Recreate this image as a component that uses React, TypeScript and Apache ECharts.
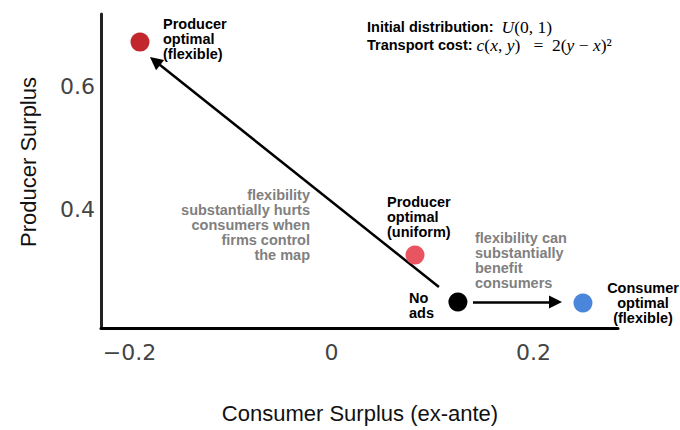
import React, { useEffect, useRef } from "react";
import * as echarts from "echarts";

// Data
const pointNames = [
  "Producer optimal (flexible)",
  "Producer optimal (uniform)",
  "No ads",
  "Consumer optimal (flexible)",
];
const consumerSurplus = [-0.1896, 0.0827, 0.1252, 0.249];
const producerSurplus = [0.6732, 0.3268, 0.2504, 0.2488];
const pointColors = ["#c1272d", "#e8545f", "#000000", "#4a86dc"];

const arrowFromX = [0.1064, 0.1401];
const arrowFromY = [0.2748, 0.2504];
const arrowToX = [-0.1747, 0.2218];
const arrowToY = [0.6422, 0.2504];

const xTicks = [-0.2, 0, 0.2];
const yTicks = [0.4, 0.6];
const xRange = [-0.2282, 0.2837];
const yRange = [0.2081, 0.7187];

const ANN = "Liberation Sans";
const ANN_FONT = `bold 14.5px "${ANN}"`;

export default function App() {
  const ref = useRef<HTMLDivElement>(null);
  useEffect(() => {
    if (!ref.current) return;
    const chart = echarts.init(ref.current, null, { renderer: "svg" });
    const mathRich = {
      b: { fontFamily: ANN, fontWeight: "bold", fontSize: 14.5, color: "#000" },
      mi: { fontFamily: "Liberation Serif", fontStyle: "italic", fontSize: 17.5, color: "#000" },
      m: { fontFamily: "Liberation Serif", fontSize: 17.5, color: "#000" },
    };
    const option: any = {
      animation: false,
      backgroundColor: "#ffffff",
      grid: { left: 101, right: 62, top: 14, bottom: 102, containLabel: false },
      xAxis: {
        type: "value",
        min: xRange[0],
        max: xRange[1],
        splitLine: { show: false },
        axisTick: { show: false },
        axisLine: { show: true, onZero: false, lineStyle: { color: "#000", width: 3 } },
        axisLabel: {
          customValues: xTicks,
          formatter: (v: number) => (v < 0 ? "\u2212" + Math.abs(v) : String(v)),
          fontFamily: "DejaVu Sans",
          fontSize: 22,
          color: "#444",
          margin: 13,
        },
      },
      yAxis: {
        type: "value",
        min: yRange[0],
        max: yRange[1],
        splitLine: { show: false },
        axisTick: { show: false },
        axisLine: { show: true, onZero: false, lineStyle: { color: "#222", width: 3 } },
        axisLabel: {
          customValues: yTicks,
          formatter: (v: number) => v.toFixed(1),
          fontFamily: "DejaVu Sans",
          fontSize: 22,
          color: "#444",
          margin: 6,
        },
      },
      series: [
        {
          type: "lines",
          coordinateSystem: "cartesian2d",
          z: 1,
          symbol: ["none", "triangle"],
          symbolSize: 13,
          lineStyle: { color: "#000", width: 2.5, opacity: 1, curveness: 0 },
          data: arrowFromX.map((fx, i) => ({
            coords: [
              [fx, arrowFromY[i]],
              [arrowToX[i], arrowToY[i]],
            ],
          })),
        },
        {
          type: "scatter",
          z: 3,
          symbolSize: 19,
          itemStyle: { opacity: 1 },
          data: consumerSurplus.map((x, i) => ({
            name: pointNames[i],
            value: [x, producerSurplus[i]],
            itemStyle: { color: pointColors[i], opacity: 1 },
          })),
        },
      ],
      graphic: [
        {
          type: "text",
          x: 28,
          y: 162,
          rotation: Math.PI / 2,
          style: {
            text: "Producer Surplus",
            font: `22px "${ANN}"`,
            fill: "#111",
            align: "center",
            textAlign: "center",
            verticalAlign: "middle",
            textVerticalAlign: "middle",
          },
        },
        {
          type: "text",
          x: 360,
          y: 413,
          style: {
            text: "Consumer Surplus (ex-ante)",
            font: `22px "${ANN}"`,
            fill: "#111",
            align: "center",
            textAlign: "center",
            verticalAlign: "middle",
            textVerticalAlign: "middle",
          },
        },
        {
          type: "text",
          x: 163,
          y: 16.5,
          style: {
            text: "Producer\noptimal\n(flexible)",
            font: ANN_FONT,
            lineHeight: 15,
            fill: "#000",
          },
        },
        {
          type: "text",
          x: 310,
          y: 187.5,
          style: {
            text: "flexibility\nsubstantially hurts\nconsumers when\nfirms control\nthe map",
            font: ANN_FONT,
            lineHeight: 15,
            fill: "#808080",
            align: "right",
            textAlign: "right",
          },
        },
        {
          type: "text",
          x: 387,
          y: 194.5,
          style: {
            text: "Producer\noptimal\n(uniform)",
            font: ANN_FONT,
            lineHeight: 15,
            fill: "#000",
          },
        },
        {
          type: "text",
          x: 475,
          y: 230.5,
          style: {
            text: "flexibility can\nsubstantially\nbenefit\nconsumers",
            font: ANN_FONT,
            lineHeight: 15,
            fill: "#808080",
          },
        },
        {
          type: "text",
          x: 409,
          y: 290.5,
          style: {
            text: "No\nads",
            font: ANN_FONT,
            lineHeight: 15,
            fill: "#000",
          },
        },
        {
          type: "text",
          x: 643,
          y: 280.5,
          style: {
            text: "Consumer\noptimal\n(flexible)",
            font: ANN_FONT,
            lineHeight: 15,
            fill: "#000",
            align: "center",
            textAlign: "center",
          },
        },
        {
          type: "text",
          x: 367,
          y: 27,
          style: {
            text: "{b|Initial distribution:  }{mi|U}{m|(0, 1)}",
            verticalAlign: "middle",
            textVerticalAlign: "middle",
            rich: mathRich,
          },
        },
        {
          type: "text",
          x: 367,
          y: 45,
          style: {
            text:
              "{b|Transport cost: }{mi|c}{m|(}{mi|x}{m|, }{mi|y}{m|)   =  2(}{mi|y}{m| \u2212 }{mi|x}{m|)\u00b2}",
            verticalAlign: "middle",
            textVerticalAlign: "middle",
            rich: mathRich,
          },
        },
      ],
    };
    chart.setOption(option);
    return () => chart.dispose();
  }, []);
  return (
    <div
      ref={ref}
      style={{ position: "fixed", left: 0, top: 0, width: 680, height: 430, background: "#fff" }}
    />
  );
}
